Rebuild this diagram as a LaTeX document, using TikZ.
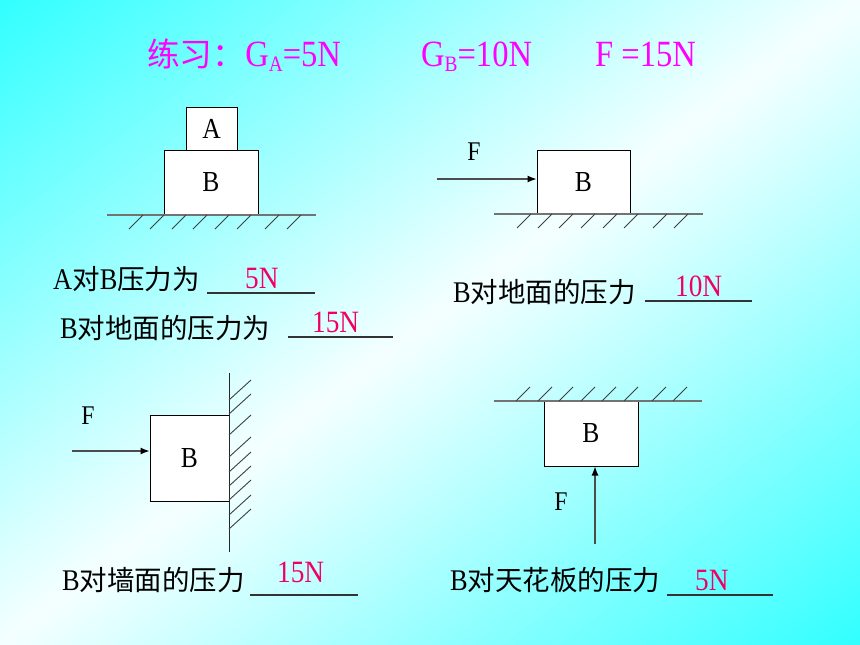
\documentclass[tikz,border=0pt]{standalone}
\usepackage{fontspec}
\setmainfont{Liberation Serif}[FakeStretch=0.88]
\newfontfamily\cjkfam{Noto Sans CJK SC}
\usetikzlibrary{arrows.meta}
\definecolor{bgc}{RGB}{51,255,255}
\definecolor{bgw}{RGB}{245,255,255}
\definecolor{ansc}{RGB}{240,0,100}
\definecolor{ttlc}{RGB}{255,0,255}
\newcommand\zhtxt[2][27.5]{{\fontsize{#1}{#1}\cjkfam #2}}
\newcommand\sbs[1]{\raisebox{-5pt}{\fontsize{22}{22}\selectfont #1}}
\tikzset{
  blk/.style={draw=black, fill=white, line width=1pt, inner sep=0pt, font=\fontsize{29}{29}\selectfont},
  gnd/.style={draw=black!55, line width=2pt},
  wall/.style={draw=black!85, line width=1pt},
  hatch/.style={draw=black!75, line width=0.9pt},
  force/.style={draw=black!70, line width=1.2pt, -{Latex[length=9pt,width=7pt,color=black]}},
  flbl/.style={inner sep=0pt, font=\fontsize{27}{27}\selectfont},
  txt/.style={anchor=base west, inner sep=0pt, font=\fontsize{30}{32}\selectfont},
  ansr/.style={anchor=base west, inner sep=0pt, text=ansc, font=\fontsize{31}{32}\selectfont},
  uline/.style={draw=black!80, line width=1.3pt},
  ttl/.style={anchor=base west, inner sep=0pt, text=ttlc, font=\fontsize{37}{40}\selectfont}
}
\begin{document}
\begin{tikzpicture}[x=1pt,y=-1pt]
\useasboundingbox (0,0) rectangle (860,645);
% background: diagonal gradient cyan - white - cyan
\begin{scope}
  \clip (0,0) rectangle (860,645);
  \begin{scope}[shift={(430,322.5)}, rotate=36.87]
    \foreach \i in {0,...,119} {
      \pgfmathsetmacro\sa{-516+\i*8.6}
      \pgfmathsetmacro\sb{\sa+9.4}
      \pgfmathsetmacro\pc{min(100,abs(\sa+4.3)/5.12)}
      \fill[bgc!\pc!bgw] (-545pt,\sa pt) -- (545pt,\sa pt) -- (545pt,\sb pt) -- (-545pt,\sb pt) -- cycle;
    }
  \end{scope}
\end{scope}

% title
\node[ttl] (t1) at (147,66) {\zhtxt[32.7]{练习：}G\sbs{A}=5N};
\node[ttl] (t2) at (421,66) {G\sbs{B}=10N};
\node[ttl] (t3) at (595,66) {F =15N};

% diagram 1: A on B on ground
\node[blk, minimum width=51pt, minimum height=43pt] (A1) at (211.5,128.5) {A};
\node[blk, minimum width=94pt, minimum height=65pt] (B1) at (211,182.5) {B};
\coordinate (g1a) at (107,215);
\coordinate (g1b) at (316,215);
\draw[gnd] (g1a) -- (g1b);
\foreach \t in {143,164,186,207,229,251,279,301}
  \draw[hatch] (\t-14,229) -- (\t,215);

% diagram 2: F pushes B on ground
\node[blk, minimum width=93pt, minimum height=64pt] (B2) at (583.5,182) {B};
\coordinate (g2a) at (494,214);
\coordinate (g2b) at (703,214);
\draw[gnd] (g2a) -- (g2b);
\foreach \t in {531,552,573,595,617,638,667,688}
  \draw[hatch] (\t-14,228) -- (\t,214);
\coordinate (f2) at (437,179);
\draw[force] (f2) -- (f2 -| B2.west);
\node[flbl] (F2) at (474,152) {F};

% diagram 3: F pushes B against wall
\node[blk, minimum width=79pt, minimum height=86pt] (B3) at (189.5,458) {B};
\coordinate (w3a) at (229,373);
\coordinate (w3b) at (229,552);
\draw[wall] (w3a) -- (w3b);
\foreach \y in {380,394,415,437,452,466,480,495,509}
  \draw[hatch] (229,\y+20) -- (251,\y);
\coordinate (f3) at (72,451);
\draw[force] (f3) -- (f3 -| B3.west);
\node[flbl] (F3) at (88,416) {F};

% diagram 4: F pushes B against ceiling
\node[blk, minimum width=94pt, minimum height=65pt] (B4) at (591,433.5) {B};
\coordinate (c4a) at (494,401);
\coordinate (c4b) at (702,401);
\draw[gnd] (c4a) -- (c4b);
\foreach \b in {516,538,559,581,602,624,652,673}
  \draw[hatch] (\b,401) -- (\b+14,387);
\coordinate (f4) at (595,544);
\draw[force] (f4) -- (f4 |- B4.south);
\node[flbl] (F4) at (561,502) {F};

% questions and answers
\node[txt] (q1) at (53,289) {A\zhtxt{对}B\zhtxt{压力为}};
\coordinate (u1a) at (207,293); \coordinate (u1b) at (315,293);
\draw[uline] (u1a) -- (u1b);
\node[ansr] (a1) at (245,288) {5N};

\node[txt] (q2) at (60,338) {B\zhtxt{对地面的压力为}};
\coordinate (u2a) at (288,337); \coordinate (u2b) at (393,337);
\draw[uline] (u2a) -- (u2b);
\node[ansr] (a2) at (312,332) {15N};

\node[txt] (q3) at (453,302) {B\zhtxt{对地面的压力}};
\coordinate (u3a) at (645,301); \coordinate (u3b) at (752,301);
\draw[uline] (u3a) -- (u3b);
\node[ansr] (a3) at (675,296) {10N};

\node[txt] (q4) at (62,590) {B\zhtxt{对墙面的压力}};
\coordinate (u4a) at (250,595); \coordinate (u4b) at (358,595);
\draw[uline] (u4a) -- (u4b);
\node[ansr] (a4) at (277,582) {15N};

\node[txt] (q5) at (450,590) {B\zhtxt{对天花板的压力}};
\coordinate (u5a) at (667,595); \coordinate (u5b) at (773,595);
\draw[uline] (u5a) -- (u5b);
\node[ansr] (a5) at (695,590) {5N};
\end{tikzpicture}
\end{document}
